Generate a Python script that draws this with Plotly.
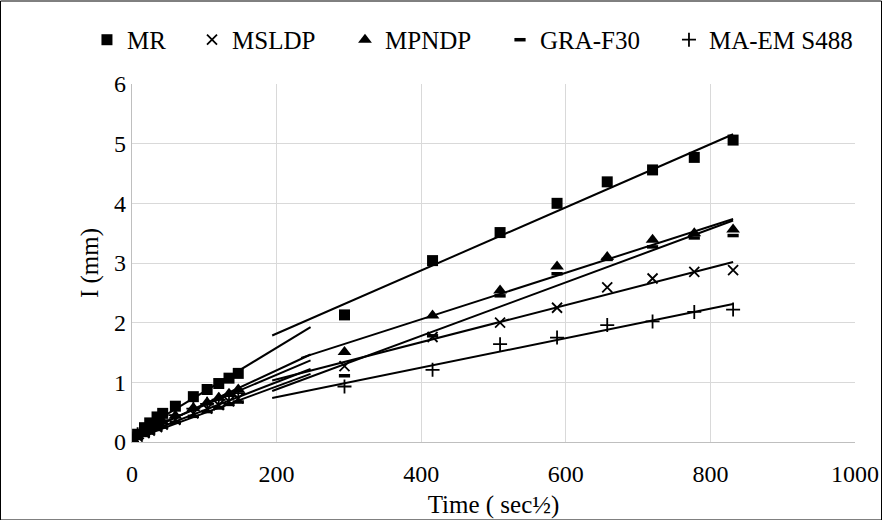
import numpy as np
import plotly.graph_objects as go

# sqrt(time) in sec^1/2 : 0, 1 min, 5, 10, 20, 30 min, 1..6 h, then days 1..8
time_early = [0, 7.75, 17.32, 24.49, 34.64, 42.43, 60.0, 84.85, 103.92, 120.0, 134.16, 146.97]
time_late = [293.9, 415.7, 509.1, 587.9, 657.3, 720.0, 777.7, 831.4]

series_names = ["MR", "MSLDP", "MPNDP", "GRA-F30", "MA-EM S488"]

mr_early = [0, 0.13, 0.24, 0.32, 0.42, 0.48, 0.60, 0.76, 0.88, 0.98, 1.07, 1.15]
mr_late = [2.13, 3.04, 3.51, 4.00, 4.36, 4.56, 4.77, 5.06]

msldp_early = [0, 0.09, 0.15, 0.19, 0.25, 0.29, 0.37, 0.48, 0.56, 0.62, 0.68, 0.73]
msldp_late = [1.27, 1.76, 2.00, 2.25, 2.59, 2.74, 2.85, 2.88]

mpndp_early = [0, 0.10, 0.17, 0.22, 0.29, 0.34, 0.44, 0.57, 0.66, 0.74, 0.81, 0.88]
mpndp_late = [1.51, 2.12, 2.54, 2.94, 3.10, 3.39, 3.50, 3.56]

gra_early = [0, 0.06, 0.11, 0.15, 0.21, 0.25, 0.33, 0.43, 0.51, 0.57, 0.63, 0.67]
gra_late = [1.11, 1.78, 2.45, 2.82, 3.06, 3.27, 3.42, 3.46]

maem_early = [0, 0.13, 0.20, 0.25, 0.31, 0.36, 0.45, 0.56, 0.64, 0.71, 0.77, 0.82]
maem_late = [0.93, 1.21, 1.64, 1.75, 1.96, 2.02, 2.18, 2.22]

early_values = [mr_early, msldp_early, mpndp_early, gra_early, maem_early]
late_values = [mr_late, msldp_late, mpndp_late, gra_late, maem_late]

# trendline forecast extents (Excel-style forward / backward)
early_forward = 100
late_backward = [100, 100, 60, 100, 100]

FONT = "Times New Roman"

marker_styles = [
    dict(symbol="square", size=11, color="black"),
    dict(symbol="x-thin", size=10, color="black", line=dict(width=1.8, color="black")),
    dict(symbol="triangle-up", size=12, color="black"),
    dict(symbol="line-ew", size=8, color="black", line=dict(width=3.5, color="black")),
    dict(symbol="cross-thin", size=10, color="black", line=dict(width=1.8, color="black")),
]

legend_names = ["legend", "legend2", "legend3", "legend4", "legend5"]
legend_x = [-0.0623, 0.0830, 0.2946, 0.5090, 0.7427]

fig = go.Figure()

# trendlines
for i in range(5):
    xe = np.array(time_early)
    ye = np.array(early_values[i])
    m, b = np.polyfit(xe, ye, 1)
    xs = np.array([xe.min(), xe.max() + early_forward])
    fig.add_trace(go.Scatter(x=xs, y=m * xs + b, mode="lines",
                             line=dict(color="black", width=2),
                             showlegend=False, hoverinfo="skip"))
    xl = np.array(time_late)
    yl = np.array(late_values[i])
    m2, b2 = np.polyfit(xl, yl, 1)
    xs2 = np.array([xl.min() - late_backward[i], xl.max()])
    fig.add_trace(go.Scatter(x=xs2, y=m2 * xs2 + b2, mode="lines",
                             line=dict(color="black", width=2),
                             showlegend=False, hoverinfo="skip"))

# markers
for i, name in enumerate(series_names):
    fig.add_trace(go.Scatter(
        x=time_early + time_late,
        y=early_values[i] + late_values[i],
        mode="markers",
        name=name,
        marker=marker_styles[i],
        legend=legend_names[i],
    ))

legend_common = dict(orientation="h", y=1.123, yanchor="middle", xanchor="left",
                     font=dict(family=FONT, size=25, color="black"),
                     bgcolor="rgba(0,0,0,0)", borderwidth=0)

layout_legends = {}
for ln, lx in zip(legend_names, legend_x):
    layout_legends[ln] = dict(legend_common, x=lx)

fig.update_layout(
    template="none",
    width=882, height=520,
    margin=dict(l=132, r=27, t=84, b=78, autoexpand=False),
    paper_bgcolor="white", plot_bgcolor="white",
    font=dict(family=FONT, size=24, color="black"),
    xaxis=dict(range=[0, 1000], dtick=200, tick0=0,
               showgrid=True, gridcolor="#d9d9d9", gridwidth=1.3,
               showline=True, linecolor="#bfbfbf", linewidth=1.3,
               zeroline=False, ticks="", ticklabelstandoff=10,
               tickfont=dict(family=FONT, size=24, color="black"),
               title=dict(text="Time ( sec½)", font=dict(family=FONT, size=25, color="black"), standoff=9)),
    yaxis=dict(range=[0, 6], dtick=1, tick0=0,
               showgrid=True, gridcolor="#d9d9d9", gridwidth=1.3,
               showline=True, linecolor="#bfbfbf", linewidth=1.3,
               zeroline=False, ticks="",
               tickfont=dict(family=FONT, size=24, color="black"),
               title=dict(text="I (mm)", font=dict(family=FONT, size=25, color="black"), standoff=8)),
    shapes=[dict(type="rect", xref="paper", yref="paper",
                 x0=(0.5 - 132) / 723, x1=(881.5 - 132) / 723,
                 y0=(441.5 - 519.5) / 358, y1=(441.5 - 0.5) / 358,
                 line=dict(color="black", width=1), fillcolor="rgba(0,0,0,0)",
                 layer="below")],
    **layout_legends,
)

fig.write_html("out.html",
               config={"displayModeBar": False},
               post_script="document.body.style.margin='0';document.body.style.overflow='hidden';")
